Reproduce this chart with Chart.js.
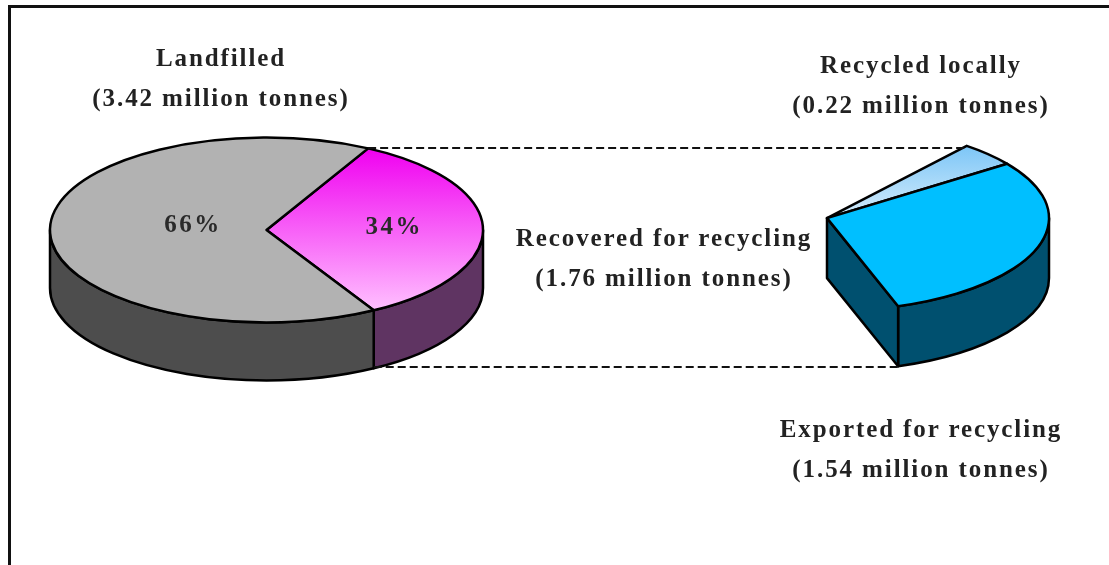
<!DOCTYPE html>
<html lang="en">

<head>
    <meta charset="UTF-8">
    <title>Waste recovery</title>
    <script src="https://cdn.jsdelivr.net/npm/chart.js@4"></script>
    <style>
        html, body { margin: 0; padding: 0; background: #fff; overflow: hidden; }
        canvas { position: absolute; left: 0; top: 0; }
        #frame { position: absolute; left: 8px; top: 5px; width: 1101px; height: 560px;
                 border-top: 3px solid #111; border-left: 3px solid #111; box-sizing: border-box; }
        .note { position: absolute; width: 340px; margin-left: -170px; text-align: center; color: #222;
                font: bold 25px/40px "Liberation Serif", serif; letter-spacing: 1.9px; white-space: nowrap; }
    </style>
</head>

<body>
    <div id="frame"></div>
    <canvas id="mainPie" width="1109" height="565"></canvas>
    <canvas id="recoveredPie" width="1109" height="565"></canvas>

    <script>
        // Million tonnes, main pie
        const mainLabels = ["Recovered for recycling", "Landfilled"];
        const mainTonnes = [1.76, 3.42];

        // Million tonnes, the recovered slice pulled out on the right
        const recoveredLabels = ["Recycled locally", "Exported for recycling"];
        const recoveredTonnes = [0.22, 1.54];

        const mainTop = [["#f000f0", "#ffc0ff"], ["#b2b2b2", "#b2b2b2"]];
        const mainWall = ["#5f3462", "#4d4d4d"];
        const recoveredTop = [["#7cc6f7", "#d6ecfb"], ["#00bfff", "#00bfff"]];
        const recoveredWall = ["#00506f", "#00506f"];

        const total = mainTonnes[0] + mainTonnes[1];

        // Draws the arcs as flattened 3D slices, from the geometry the library worked out
        function pointOn(arc, squash, angle, dy) {
            return {
                x: arc.x + arc.outerRadius * Math.cos(angle),
                y: arc.y + arc.outerRadius * squash * Math.sin(angle) + dy
            };
        }

        function drawWall(ctx, arc, squash, depth, color) {
            const from = Math.max(arc.startAngle, 0);
            const to = Math.min(arc.endAngle, Math.PI);
            if (to <= from) return;
            const ry = arc.outerRadius * squash;
            ctx.beginPath();
            ctx.ellipse(arc.x, arc.y, arc.outerRadius, ry, 0, from, to);
            ctx.ellipse(arc.x, arc.y + depth, arc.outerRadius, ry, 0, to, from, true);
            ctx.closePath();
            ctx.fillStyle = color;
            ctx.fill();
            ctx.stroke();
        }

        function drawCutFace(ctx, arc, squash, depth, color) {
            const end = pointOn(arc, squash, arc.endAngle, 0);
            ctx.beginPath();
            ctx.moveTo(arc.x, arc.y);
            ctx.lineTo(end.x, end.y);
            ctx.lineTo(end.x, end.y + depth);
            ctx.lineTo(arc.x, arc.y + depth);
            ctx.closePath();
            ctx.fillStyle = color;
            ctx.fill();
            ctx.stroke();
        }

        function drawTop(ctx, arc, squash, stops) {
            const ry = arc.outerRadius * squash;
            const start = pointOn(arc, squash, arc.startAngle, 0);
            const end = pointOn(arc, squash, arc.endAngle, 0);
            const fill = ctx.createLinearGradient(0, Math.min(start.y, end.y, arc.y), 0, Math.max(start.y, end.y, arc.y));
            fill.addColorStop(0, stops[0]);
            fill.addColorStop(1, stops[1]);
            ctx.beginPath();
            ctx.moveTo(arc.x, arc.y);
            ctx.ellipse(arc.x, arc.y, arc.outerRadius, ry, 0, arc.startAngle, arc.endAngle);
            ctx.closePath();
            ctx.fillStyle = fill;
            ctx.fill();
            ctx.stroke();
        }

        const flatPie = {
            id: "flatPie",
            beforeDatasetsDraw(chart, args, opts) {
                const ctx = chart.ctx;
                const arcs = chart.getDatasetMeta(0).data;
                ctx.save();
                ctx.strokeStyle = "#000";
                ctx.lineWidth = 2.5;
                ctx.lineJoin = "round";
                arcs.forEach((arc, i) => drawWall(ctx, arc, opts.squash, opts.depth, opts.walls[i]));
                if (opts.cut) drawCutFace(ctx, arcs[arcs.length - 1], opts.squash, opts.depth, opts.walls[arcs.length - 1]);
                arcs.forEach((arc, i) => drawTop(ctx, arc, opts.squash, opts.tops[i]));
                ctx.restore();
                return false;
            }
        };

        const mainShape = { squash: 0.427, depth: 58, tops: mainTop, walls: mainWall, cut: false };
        const recoveredShape = { squash: 0.419, depth: 60, tops: recoveredTop, walls: recoveredWall, cut: true };

        // Percent labels on the main pie, and the dashed lines joining the two pies
        const percentReach = [0.59, 0.34];
        const percentLift = [-2, -4];

        const mainExtras = {
            id: "mainExtras",
            afterDraw(chart) {
                const ctx = chart.ctx;
                ctx.save();
                ctx.font = 'bold 25px "Liberation Serif", serif';
                ctx.letterSpacing = "2.5px";
                ctx.fillStyle = "#2a2a2a";
                ctx.textAlign = "center";
                ctx.textBaseline = "middle";
                chart.getDatasetMeta(0).data.forEach((arc, i) => {
                    const mid = (arc.startAngle + arc.endAngle) / 2;
                    const x = arc.x + arc.outerRadius * percentReach[i] * Math.cos(mid);
                    const y = arc.y + percentLift[i];
                    ctx.fillText(Math.round(mainTonnes[i] / total * 100) + "%", x, y);
                });
                ctx.restore();
            }
        };

        const joinLines = {
            id: "joinLines",
            afterDraw(chart) {
                const ctx = chart.ctx;
                const left = mainChart.getDatasetMeta(0).data[0];
                const rightArcs = chart.getDatasetMeta(0).data;
                const a = pointOn(left, mainShape.squash, left.startAngle, 0);
                const b = pointOn(rightArcs[0], recoveredShape.squash, rightArcs[0].startAngle, 0);
                const c = pointOn(left, mainShape.squash, left.endAngle, mainShape.depth);
                const d = pointOn(rightArcs[1], recoveredShape.squash, rightArcs[1].endAngle, recoveredShape.depth);
                const topY = Math.round(a.y);
                const bottomY = Math.round(c.y) - 1;
                ctx.save();
                ctx.strokeStyle = "#111";
                ctx.lineWidth = 2;
                ctx.setLineDash([8, 4]);
                ctx.beginPath();
                ctx.moveTo(a.x, topY);
                ctx.lineTo(b.x, topY);
                ctx.moveTo(c.x, bottomY);
                ctx.lineTo(d.x, bottomY);
                ctx.stroke();
                ctx.restore();
            }
        };

        function pieOptions(rotation, circumference, radius, padding, shape) {
            return {
                responsive: false,
                animation: false,
                rotation: rotation,
                circumference: circumference,
                radius: radius,
                layout: { padding: padding },
                plugins: {
                    legend: { display: false },
                    tooltip: { enabled: false },
                    flatPie: shape
                }
            };
        }

        const mainChart = new Chart(document.getElementById("mainPie"), {
            type: "pie",
            data: { labels: mainLabels, datasets: [{ data: mainTonnes, borderWidth: 0 }] },
            options: pieOptions(28, 360, 216.5, { left: 0, right: 576, top: 0, bottom: 105 }, mainShape),
            plugins: [flatPie, mainExtras]
        });

        const recoveredChart = new Chart(document.getElementById("recoveredPie"), {
            type: "pie",
            data: { labels: recoveredLabels, datasets: [{ data: recoveredTonnes, borderWidth: 0 }] },
            options: pieOptions(39, mainTonnes[0] / total * 360, 222, { left: 767, right: 0, top: 0, bottom: 91 }, recoveredShape),
            plugins: [flatPie, joinLines]
        });

        // Callouts
        function addNote(label, tonnes, x, y) {
            const note = document.createElement("div");
            note.className = "note";
            note.style.left = x + "px";
            note.style.top = y + "px";
            note.innerHTML = label + "<br>(" + tonnes.toFixed(2) + " million tonnes)";
            document.body.appendChild(note);
        }

        addNote(mainLabels[1], mainTonnes[1], 221, 38);
        addNote(recoveredLabels[0], recoveredTonnes[0], 921, 45);
        addNote(mainLabels[0], mainTonnes[0], 664, 218);
        addNote(recoveredLabels[1], recoveredTonnes[1], 921, 409);
    </script>
</body>

</html>
